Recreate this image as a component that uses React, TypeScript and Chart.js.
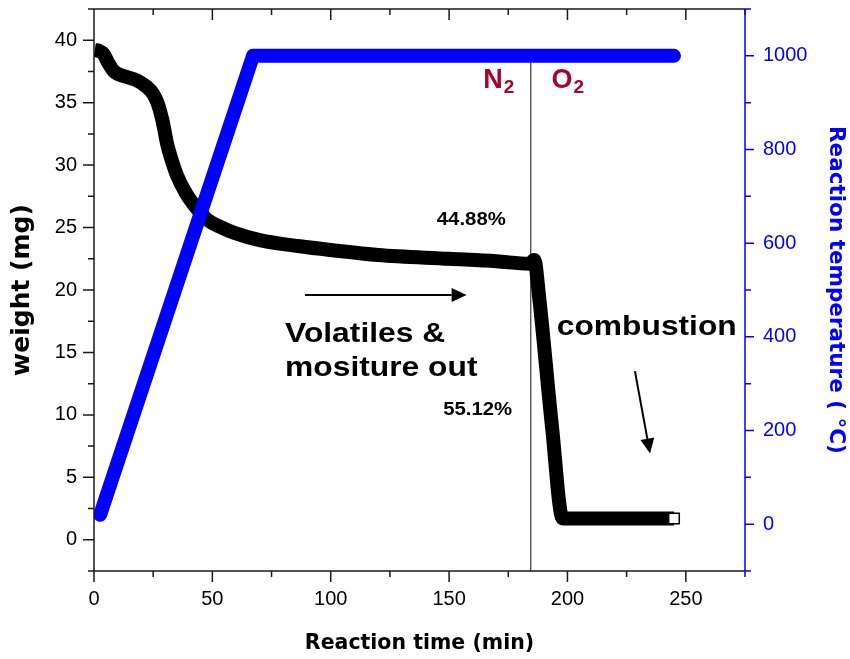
import React, { useEffect, useRef } from 'react';
import { Chart, registerables } from 'chart.js';

Chart.register(...registerables);

// ---- data ----
const WEIGHT_TIME = [0.3, 2, 4, 6, 8, 10, 13, 18, 22, 25, 27, 29, 31, 33, 35, 39, 44, 48, 54, 59, 70, 87, 100, 120, 150, 170, 184, 186, 188, 193.5, 198, 245];
const WEIGHT_MG = [39.2, 39.15, 38.9, 38.2, 37.6, 37.3, 37.1, 36.8, 36.3, 35.7, 34.9, 33.5, 31.6, 30.3, 29.2, 27.7, 26.4, 25.6, 25.0, 24.6, 24.0, 23.5, 23.2, 22.8, 22.5, 22.3, 22.1, 22.4, 19.5, 9.0, 1.7, 1.7];
const TEMP_TIME = [2.6, 67.2, 245];
const TEMP_C = [20, 1000, 1000];
const SWITCH_TIME = [184.5, 184.5];
const SWITCH_WEIGHT = [-2.5, 38.2];

// ---- axes ----
const X_MIN = 0, X_MAX = 275, X_STEP = 25, X_LABEL_STEP = 50, X_LABEL_MAX = 250;
const W_MIN = -2.5, W_MAX = 42.5, W_STEP = 2.5, W_LABEL_STEP = 5, W_LABEL_MAX = 40;
const T_MIN = -100, T_MAX = 1100, T_STEP = 100, T_LABEL_STEP = 200, T_LABEL_MAX = 1000;

const X_TITLE = 'Reaction time (min)';
const W_TITLE = 'weight (mg)';
const T_TITLE = 'Reaction temperature ( °C)';

const AXIS_COLOR = '#1a1a1a';
const TEMP_COLOR = '#0000ff';
const GAS_COLOR = '#a5052b';
const SANS = '"Liberation Sans", Arial, sans-serif';
const WIDE = '"DejaVu Sans", sans-serif';

const isMult = (v: number, s: number) => Math.abs(v / s - Math.round(v / s)) < 1e-6;

// annotation positions in data units (time, weight)
const NOTES = [
  { text: 'Volatiles &', t: 80.7, w: 15.86, size: 28, sx: 1.135, color: '#000' },
  { text: 'mositure out', t: 80.7, w: 13.1, size: 28, sx: 1.135, color: '#000' },
  { text: 'combustion', t: 195.5, w: 16.4, size: 28, sx: 1.134, color: '#000' },
  { text: '44.88%', t: 144.8, w: 25.2, size: 18.5, sx: 1.1, color: '#000' },
  { text: '55.12%', t: 147.5, w: 10.0, size: 18.5, sx: 1.1, color: '#000' },
];
const GASES = [
  { main: 'N', sub: '2', t: 164.4, w: 36.2 },
  { main: 'O', sub: '2', t: 193.3, w: 36.2 },
];
const ARROWS = [
  { t0: 89.1, w0: 19.6, t1: 157.4, w1: 19.6 },
  { t0: 228.5, w0: 13.5, t1: 234.9, w1: 6.9 },
];

const framePlugin = {
  id: 'frame',
  afterDatasetsDraw(chart: any) {
    const { ctx, chartArea: a, scales } = chart;
    const xs = scales.x, ys = scales.y, ts = scales.y1;
    ctx.save();
    ctx.lineCap = 'butt';
    ctx.lineWidth = 1.5;
    ctx.strokeStyle = AXIS_COLOR;
    ctx.beginPath();
    ctx.moveTo(a.left, a.top);
    ctx.lineTo(a.left, a.bottom);
    ctx.lineTo(a.right, a.bottom);
    ctx.moveTo(a.left, a.top);
    ctx.lineTo(a.right, a.top);
    for (let v = X_MIN; v <= X_MAX + 1e-9; v += X_STEP) {
      const px = xs.getPixelForValue(v);
      const len = isMult(v, X_LABEL_STEP) ? 11 : 6;
      ctx.moveTo(px, a.bottom);
      ctx.lineTo(px, a.bottom + len);
      ctx.moveTo(px, a.top);
      ctx.lineTo(px, a.top + len);
    }
    for (let v = W_MIN; v <= W_MAX + 1e-9; v += W_STEP) {
      const py = ys.getPixelForValue(v);
      const len = isMult(v, W_LABEL_STEP) ? 11 : 6;
      ctx.moveTo(a.left - len, py);
      ctx.lineTo(a.left, py);
    }
    ctx.stroke();
    ctx.strokeStyle = TEMP_COLOR;
    ctx.beginPath();
    ctx.moveTo(a.right, a.top);
    ctx.lineTo(a.right, a.bottom);
    for (let v = T_MIN; v <= T_MAX + 1e-9; v += T_STEP) {
      const py = ts.getPixelForValue(v);
      const len = isMult(v, T_LABEL_STEP) ? 9 : 6;
      ctx.moveTo(a.right, py);
      ctx.lineTo(a.right + len, py);
    }
    ctx.stroke();
    ctx.restore();
  },
};

const notesPlugin = {
  id: 'notes',
  afterDraw(chart: any) {
    const { ctx, scales } = chart;
    const xs = scales.x, ys = scales.y;
    ctx.save();
    ctx.textAlign = 'left';
    ctx.textBaseline = 'alphabetic';
    for (const n of NOTES) {
      ctx.save();
      ctx.translate(xs.getPixelForValue(n.t), ys.getPixelForValue(n.w));
      ctx.scale(n.sx, 1);
      ctx.font = `bold ${n.size}px ${SANS}`;
      ctx.fillStyle = n.color;
      ctx.fillText(n.text, 0, 0);
      ctx.restore();
    }
    for (const g of GASES) {
      const x = xs.getPixelForValue(g.t);
      const y = ys.getPixelForValue(g.w);
      ctx.fillStyle = GAS_COLOR;
      ctx.font = `bold 27px ${SANS}`;
      ctx.fillText(g.main, x, y);
      const mw = ctx.measureText(g.main).width;
      ctx.font = `bold 19px ${SANS}`;
      ctx.fillText(g.sub, x + mw + 1, y + 5);
    }
    ctx.strokeStyle = '#000';
    ctx.fillStyle = '#000';
    ctx.lineWidth = 2;
    for (const ar of ARROWS) {
      const x0 = xs.getPixelForValue(ar.t0), y0 = ys.getPixelForValue(ar.w0);
      const x1 = xs.getPixelForValue(ar.t1), y1 = ys.getPixelForValue(ar.w1);
      const ang = Math.atan2(y1 - y0, x1 - x0);
      const hl = 15, hw = 7;
      const bx = x1 - hl * Math.cos(ang), by = y1 - hl * Math.sin(ang);
      ctx.beginPath();
      ctx.moveTo(x0, y0);
      ctx.lineTo(bx, by);
      ctx.stroke();
      ctx.beginPath();
      ctx.moveTo(x1, y1);
      ctx.lineTo(bx + hw * Math.sin(ang), by - hw * Math.cos(ang));
      ctx.lineTo(bx - hw * Math.sin(ang), by + hw * Math.cos(ang));
      ctx.closePath();
      ctx.fill();
    }
    ctx.restore();
  },
};

export default function App() {
  const ref = useRef<HTMLCanvasElement>(null);
  useEffect(() => {
    const weightData = WEIGHT_TIME.map((t, i) => ({ x: t, y: WEIGHT_MG[i] }));
    const tempData = TEMP_TIME.map((t, i) => ({ x: t, y: TEMP_C[i] }));
    const switchData = SWITCH_TIME.map((t, i) => ({ x: t, y: SWITCH_WEIGHT[i] }));
    const last = weightData.length - 1;
    const fitV = (w: number) => (s: any) => {
      s.width = w;
      s.paddingTop = 0;
      s.paddingBottom = 0;
    };
    const chart = new Chart(ref.current as HTMLCanvasElement, {
      type: 'line',
      data: {
        datasets: [
          {
            label: 'temperature',
            data: tempData,
            yAxisID: 'y1',
            borderColor: TEMP_COLOR,
            backgroundColor: TEMP_COLOR,
            borderWidth: 14,
            borderCapStyle: 'round',
            borderJoinStyle: 'round',
            pointRadius: 0,
            tension: 0,
            order: 0,
          },
          {
            label: 'weight',
            data: weightData,
            yAxisID: 'y',
            borderColor: '#000',
            backgroundColor: '#000',
            borderWidth: 14,
            borderCapStyle: 'butt',
            borderJoinStyle: 'round',
            cubicInterpolationMode: 'monotone',
            pointStyle: 'rect',
            pointRadius: (c: any) => (c.dataIndex === last ? 7.5 : 0),
            pointBackgroundColor: '#fff',
            pointBorderColor: '#000',
            pointBorderWidth: 1.5,
            order: 1,
          },
          {
            label: 'switch',
            data: switchData,
            yAxisID: 'y',
            borderColor: '#333',
            borderWidth: 1.2,
            pointRadius: 0,
            order: 2,
          },
        ],
      },
      options: {
        responsive: false,
        maintainAspectRatio: false,
        animation: false,
        layout: { padding: { top: 9, left: 0, right: 0, bottom: 0 } },
        plugins: { legend: { display: false }, tooltip: { enabled: false }, title: { display: false } },
        scales: {
          x: {
            type: 'linear',
            position: 'bottom',
            min: X_MIN,
            max: X_MAX,
            afterFit: (s: any) => {
              s.height = 88;
              s.paddingLeft = 0;
              s.paddingRight = 0;
            },
            grid: { display: false, drawTicks: false },
            border: { display: false },
            ticks: {
              stepSize: X_STEP,
              autoSkip: false,
              maxRotation: 0,
              padding: 16,
              color: '#000',
              font: { family: SANS, size: 20 },
              callback: (v: any) => (isMult(v, X_LABEL_STEP) && v >= 0 && v <= X_LABEL_MAX ? String(v) : ''),
            },
            title: {
              display: true,
              text: X_TITLE,
              color: '#000',
              font: { family: WIDE, size: 20.5, weight: 'bold' },
              padding: { top: 0, bottom: 3 },
            },
          },
          y: {
            type: 'linear',
            position: 'left',
            min: W_MIN,
            max: W_MAX,
            afterFit: fitV(94),
            grid: { display: false, drawTicks: false },
            border: { display: false },
            ticks: {
              stepSize: W_STEP,
              autoSkip: false,
              padding: 17,
              color: '#000',
              font: { family: SANS, size: 20 },
              callback: (v: any) => (isMult(v, W_LABEL_STEP) && v >= 0 && v <= W_LABEL_MAX ? String(v) : ''),
            },
            title: {
              display: true,
              text: W_TITLE,
              color: '#000',
              font: { family: WIDE, size: 25, weight: 'bold' },
              padding: { top: 7, bottom: 0 },
            },
          },
          y1: {
            type: 'linear',
            position: 'right',
            min: T_MIN,
            max: T_MAX,
            afterFit: fitV(105),
            grid: { display: false, drawTicks: false },
            border: { display: false },
            ticks: {
              stepSize: T_STEP,
              autoSkip: false,
              padding: 18,
              color: TEMP_COLOR,
              font: { family: SANS, size: 20 },
              callback: (v: any) => (isMult(v, T_LABEL_STEP) && v >= 0 && v <= T_LABEL_MAX ? String(v) : ''),
            },
            title: {
              display: true,
              text: T_TITLE,
              color: TEMP_COLOR,
              font: { family: WIDE, size: 21.5, weight: 'bold' },
              padding: { top: 2, bottom: 0 },
            },
          },
        },
      },
      plugins: [framePlugin, notesPlugin],
    } as any);
    return () => chart.destroy();
  }, []);
  return (
    <div style={{ position: 'fixed', left: 0, top: 0, width: 850, height: 659, background: '#fff' }}>
      <canvas ref={ref} width={850} height={659} style={{ display: 'block' }} />
    </div>
  );
}
